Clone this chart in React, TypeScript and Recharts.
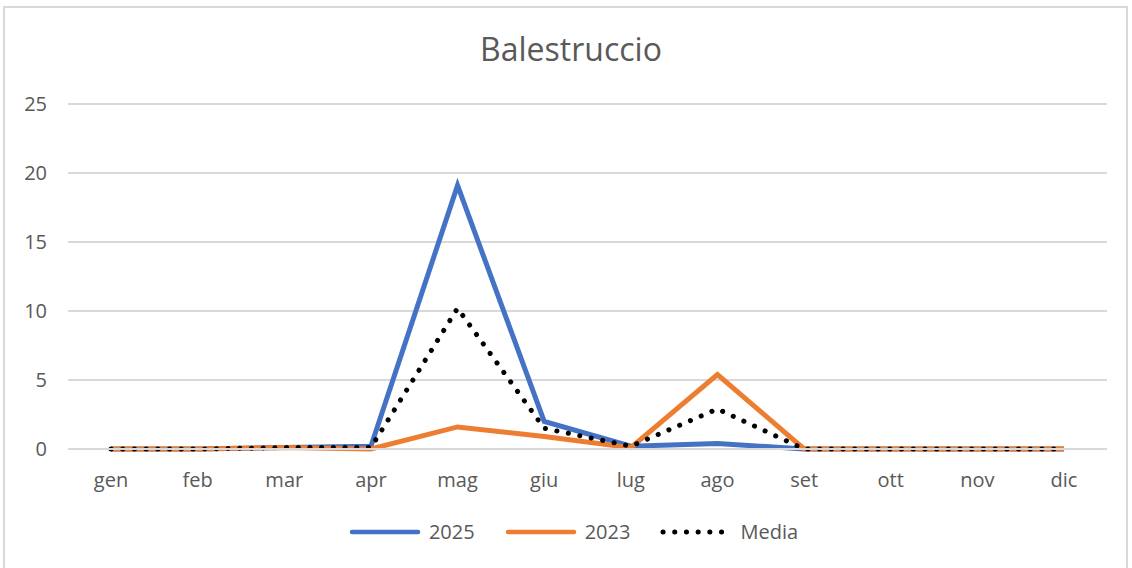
import React from "react";
import { LineChart, Line, XAxis, YAxis, CartesianGrid, Legend } from "recharts";

const months = ["gen", "feb", "mar", "apr", "mag", "giu", "lug", "ago", "set", "ott", "nov", "dic"];
const y2025 = [0, 0, 0.1, 0.2, 19.1, 2.0, 0.2, 0.4, 0, 0, 0, 0];
const y2023 = [0, 0, 0.1, 0, 1.6, 0.9, 0.1, 5.4, 0, 0, 0, 0];
const media = [0, 0, 0.1, 0.1, 10.2, 1.5, 0.2, 2.9, 0, 0, 0, 0];
const yTicks = [0, 5, 10, 15, 20, 25];

const data = months.map((m, i) => ({ month: m, a: y2025[i], b: y2023[i], media: media[i] }));

const BLUE = "#4472C4";
const ORANGE = "#ED7D31";
const TEXT = "#595959";
const GRID = "#d9d9d9";
const FONT = "'Open Sans', 'Noto Sans', sans-serif";

const legendItems = [
  { label: "2025", color: BLUE, dotted: false },
  { label: "2023", color: ORANGE, dotted: false },
  { label: "Media", color: "#000", dotted: true },
];

const CustomLegend = () => (
  <div style={{ display: "flex", justifyContent: "center", alignItems: "center", gap: 30, fontFamily: FONT, fontSize: 20, color: TEXT, paddingLeft: 40 }}>
    {legendItems.map((it) => (
      <div key={it.label} style={{ display: "flex", alignItems: "center", gap: 8 }}>
        <svg width={72} height={10}>
          <line
            x1={3}
            y1={5}
            x2={69}
            y2={5}
            stroke={it.color}
            strokeWidth={it.dotted ? 5 : 4.5}
            strokeLinecap="round"
            strokeDasharray={it.dotted ? "0.1 11.6" : undefined}
          />
        </svg>
        <span>{it.label}</span>
      </div>
    ))}
  </div>
);

export default function App() {
  return (
    <div style={{ position: "absolute", left: 0, top: 0, width: 1132, height: 568, background: "#fff" }}>
      <div
        style={{
          position: "absolute",
          left: 3,
          top: 6,
          width: 1125,
          height: 570,
          border: `2px solid ${GRID}`,
          boxSizing: "border-box",
        }}
      />
      <div
        style={{
          position: "absolute",
          left: 0,
          top: 27,
          width: 1142,
          textAlign: "center",
          fontFamily: FONT,
          fontSize: 32,
          color: TEXT,
        }}
      >
        Balestruccio
      </div>
      <div style={{ position: "absolute", left: 0, top: 0 }}>
        <LineChart width={1132} height={568} data={data} margin={{ top: 104, right: 25, left: 0, bottom: 20 }}>
          <CartesianGrid vertical={false} stroke={GRID} strokeWidth={2} />
          <XAxis
            dataKey="month"
            axisLine={{ stroke: GRID, strokeWidth: 2 }}
            tickLine={false}
            tickSize={0}
            tickMargin={24}
            height={69}
            padding={{ left: 43, right: 43 }}
            tick={{ fill: TEXT, fontSize: 20, fontFamily: FONT }}
          />
          <YAxis
            domain={[0, 25]}
            ticks={yTicks}
            axisLine={false}
            tickLine={false}
            tickSize={0}
            tickMargin={21}
            width={68}
            tick={{ fill: TEXT, fontSize: 20, fontFamily: FONT }}
          />
          <Legend verticalAlign="bottom" height={30} content={<CustomLegend />} />
          <Line dataKey="a" name="2025" stroke={BLUE} strokeWidth={5} dot={false} isAnimationActive={false} />
          <Line dataKey="b" name="2023" stroke={ORANGE} strokeWidth={5} dot={false} isAnimationActive={false} />
          <Line
            dataKey="media"
            name="Media"
            stroke="#000"
            strokeWidth={5}
            strokeLinecap="round"
            strokeDasharray="0.1 11.6"
            dot={false}
            isAnimationActive={false}
          />
        </LineChart>
      </div>
    </div>
  );
}
